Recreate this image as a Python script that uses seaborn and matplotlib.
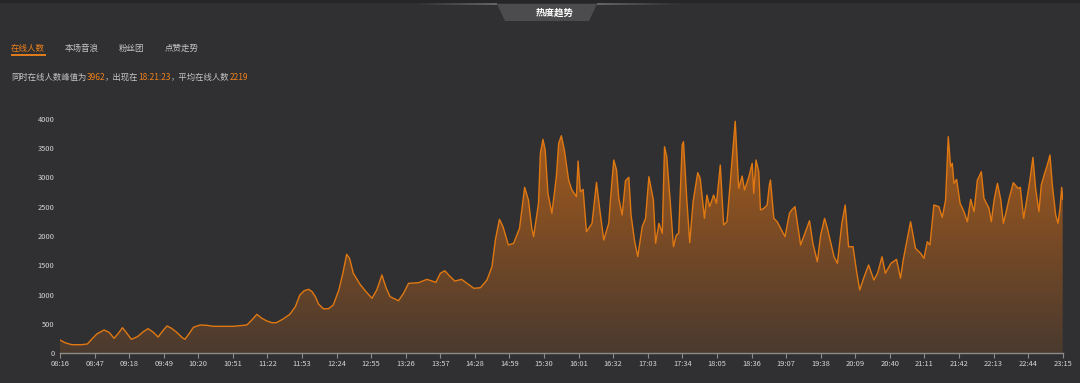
import numpy as np
import pandas as pd
import matplotlib
matplotlib.use("Agg")
import matplotlib.pyplot as plt
import seaborn as sns
from matplotlib.patches import Polygon, Rectangle
from matplotlib.colors import LinearSegmentedColormap

# ---------------- data ----------------
times = [
    "08:16:00", "08:20:30", "08:26:30", "08:35:30", "08:40:30", "08:44:24", "08:49:00", "08:55:30",
    "09:00:00", "09:04:30", "09:08:18", "09:12:00", "09:16:00", "09:20:00", "09:25:24", "09:30:48",
    "09:35:00", "09:39:42", "09:44:00", "09:48:42", "09:52:00", "09:56:00", "10:00:42", "10:05:12",
    "10:08:00", "10:12:00", "10:15:36", "10:21:36", "10:27:36", "10:33:30", "10:51:30", "11:03:30",
    "11:08:00", "11:12:30", "11:17:00", "11:21:30", "11:26:00", "11:30:00", "11:36:00", "11:42:00",
    "11:47:00", "11:51:00", "11:55:00", "11:59:00", "12:02:00", "12:05:00", "12:07:48", "12:12:00",
    "12:16:42", "12:21:00", "12:26:00", "12:29:36", "12:33:00", "12:35:36", "12:39:00", "12:45:00",
    "12:49:36", "12:55:42", "13:00:00", "13:04:36", "13:08:30", "13:12:00", "13:19:30", "13:24:00",
    "13:28:30", "13:37:30", "13:45:00", "13:53:00", "13:57:00", "14:01:00", "14:05:18", "14:10:00",
    "14:16:00", "14:27:00", "14:33:00", "14:38:48", "14:43:18", "14:46:18", "14:50:00", "14:53:12",
    "14:58:00", "15:02:42", "15:08:00", "15:12:36", "15:16:00", "15:19:00", "15:20:36", "15:25:00",
    "15:26:42", "15:29:00", "15:31:00", "15:33:30", "15:37:00", "15:41:00", "15:43:06", "15:45:30",
    "15:48:12", "15:52:00", "15:55:00", "15:59:00",
    "16:00:30", "16:02:30", "16:05:00", "16:08:00", "16:13:00", "16:17:00", "16:20:00", "16:23:30",
    "16:28:00", "16:29:30", "16:32:30", "16:35:00", "16:37:00", "16:40:00", "16:43:00", "16:46:00",
    "16:48:00", "16:51:00", "16:54:00", "16:58:00", "17:01:00", "17:04:00", "17:08:00", "17:10:00",
    "17:13:00", "17:16:00", "17:18:00", "17:20:00", "17:23:00", "17:26:00", "17:28:36", "17:30:42",
    "17:33:48", "17:35:00", "17:38:00", "17:40:36", "17:43:36", "17:47:48", "17:50:00", "17:53:48",
    "17:56:00", "17:58:30", "18:02:00", "18:04:36", "18:08:00", "18:11:00", "18:14:00", "18:16:30",
    "18:21:23", "18:24:30", "18:27:36", "18:29:42", "18:33:30", "18:36:36", "18:38:00", "18:40:00",
    "18:42:30", "18:44:00", "18:47:00", "18:50:00", "18:52:00", "18:53:00", "18:56:00", "18:59:00",
    "19:01:00", "19:06:00", "19:10:00", "19:12:00", "19:15:00", "19:20:00", "19:25:00", "19:28:00",
    "19:31:00", "19:35:00", "19:38:00", "19:41:30", "19:44:00", "19:50:00", "19:53:00", "19:57:00",
    "20:00:00", "20:03:00", "20:07:00", "20:10:00", "20:13:00", "20:17:00", "20:21:00", "20:25:42",
    "20:29:00", "20:33:00", "20:36:00", "20:41:00", "20:46:00", "20:49:36", "20:52:00", "20:58:36",
    "21:03:00", "21:07:36", "21:10:36", "21:13:36", "21:16:00", "21:19:30", "21:24:00", "21:27:00",
    "21:30:00", "21:32:24", "21:34:30", "21:36:00", "21:37:30", "21:39:54", "21:43:00", "21:46:30",
    "21:49:30", "21:52:30", "21:55:30", "21:58:30", "22:00:00", "22:02:00", "22:04:24", "22:08:54",
    "22:11:00", "22:13:30", "22:16:30", "22:19:30", "22:21:48", "22:24:00", "22:27:00", "22:30:42",
    "22:35:00", "22:37:00", "22:40:00", "22:43:00", "22:45:36", "22:48:18", "22:50:42", "22:53:42",
    "22:55:48", "22:58:48", "23:01:12", "23:03:36", "23:05:42", "23:08:42", "23:10:48", "23:12:36",
    "23:14:06", "23:15:00",
]
online = [
    222, 176, 142, 142, 154, 234, 325, 393,
    353, 251, 336, 433, 336, 234, 279, 365,
    416, 353, 273, 393, 462, 422, 353, 268,
    234, 336, 439, 479, 473, 456, 456, 479,
    564, 661, 593, 547, 518, 518, 581, 661,
    791, 991, 1065, 1089, 1048, 962, 837, 757,
    757, 820, 1077, 1362, 1687, 1618, 1362, 1174,
    1065, 935, 1077, 1333, 1106, 962, 894, 1020,
    1191, 1202, 1259, 1208, 1362, 1407, 1316, 1230,
    1259, 1106, 1116, 1248, 1475, 1931, 2285, 2159,
    1846, 1875, 2131, 2832, 2615, 2131, 1988, 2558,
    3413, 3652, 3470, 2729, 2387, 3013, 3584, 3714,
    3470, 2957, 2786, 2672,
    3281, 2757, 2797, 2073, 2217, 2917, 2444, 1931,
    2217, 2615, 3299, 3128, 2644, 2359, 2945, 3003,
    2359, 1931, 1646, 2159, 2302, 3013, 2615, 1875,
    2217, 2046, 3526, 3355, 2615, 1817, 2017, 2046,
    3555, 3612, 2615, 1885, 2586, 3082, 2986, 2302,
    2700, 2501, 2700, 2558, 3213, 2188, 2244, 2815,
    3962, 2815, 3025, 2786, 3003, 3242, 2729, 3299,
    3099, 2444, 2473, 2530, 2872, 2957, 2302, 2244,
    2171, 1988, 2387, 2444, 2501, 1846, 2102, 2261,
    1875, 1560, 2017, 2302, 2131, 1646, 1532, 2217,
    2530, 1817, 1817, 1419, 1077, 1304, 1504, 1248,
    1362, 1646, 1362, 1532, 1601, 1276, 1589, 2244,
    1789, 1704, 1618, 1902, 1846, 2530, 2501, 2319,
    2615, 3697, 3184, 3242, 2900, 2968, 2558, 2415,
    2244, 2627, 2415, 2957, 3013, 3099, 2644, 2473,
    2244, 2615, 2900, 2615, 2217, 2387, 2644, 2911,
    2815, 2832, 2302, 2644, 2957, 3344, 2815, 2415,
    2872, 3071, 3213, 3384, 2872, 2359, 2217, 2473,
    2832, 2627,
]
x_tick_labels = [
    "08:16", "08:47", "09:18", "09:49", "10:20", "10:51", "11:22", "11:53", "12:24", "12:55",
    "13:26", "13:57", "14:28", "14:59", "15:30", "16:01", "16:32", "17:03", "17:34", "18:05",
    "18:36", "19:07", "19:38", "20:09", "20:40", "21:11", "21:42", "22:13", "22:44", "23:15",
]
y_ticks = [0, 500, 1000, 1500, 2000, 2500, 3000, 3500, 4000]
tabs = ["在线人数", "本场音浪", "粉丝团", "点赞走势"]
title = "热度趋势"
summary_parts = [("同时在线人数峰值为", "gray"), ("3962", "orange"), ("，出现在", "gray"),
                 ("18:21:23", "orange"), ("，平均在线人数", "gray"), ("2219", "orange")]

assert len(times) == len(online)

# ---------------- style ----------------
BG = "#303032"
ORANGE = "#f0821a"
LINE = "#e07812"
GRAY_TXT = "#c4c4c4"
TICK_TXT = "#d4d4d4"

sns.set_theme(style="dark")
plt.rcParams["font.family"] = ["Noto Sans CJK SC", "DejaVu Sans"]

def to_min(s):
    p = [int(v) for v in s.split(":")]
    return p[0] * 60 + p[1] + (p[2] / 60 if len(p) > 2 else 0)

df = pd.DataFrame({"t": [to_min(s) for s in times], "v": online})
tick_pos = [to_min(s) for s in x_tick_labels]

W, H = 1080, 383
fig = plt.figure(figsize=(W / 100, H / 100), dpi=100, facecolor=BG)

# background / header decoration axes in pixel coords
bg = fig.add_axes([0, 0, 1, 1])
bg.set_xlim(0, W)
bg.set_ylim(H, 0)
bg.axis("off")
bg.set_facecolor(BG)
bg.add_patch(Rectangle((0, 0), W, 3, color="#262628", lw=0))
n = 40
for i in range(n):
    a = (i + 1) / n
    bg.add_patch(Rectangle((417 + i * 2, 3), 2, 2.2, color="#6a6a6c", alpha=a * 0.9, lw=0))
    bg.add_patch(Rectangle((597 + (n - 1 - i) * 2, 3), 2, 2.2, color="#6a6a6c", alpha=a * 0.9, lw=0))
bg.add_patch(Polygon([(497, 4), (597, 4), (589, 21), (505, 21)], closed=True,
                     color="#4c4c4e", lw=0))
bg.text(555, 13, title, color="white", fontsize=6.8, fontweight="bold",
        ha="center", va="center")

tab_x = [11, 65, 119, 165]
for i, (t, x) in enumerate(zip(tabs, tab_x)):
    bg.text(x, 48, t, color=ORANGE if i == 0 else GRAY_TXT, fontsize=6.1,
            ha="left", va="center")
bg.plot([11, 45.5], [54.5, 54.5], color=ORANGE, lw=1.3, solid_capstyle="butt")

fig.canvas.draw()
renderer = fig.canvas.get_renderer()
x = 11
for txt, c in summary_parts:
    tt = bg.text(x, 77, txt, color=ORANGE if c == "orange" else GRAY_TXT,
                 fontsize=6.0, ha="left", va="center")
    bb = tt.get_window_extent(renderer=renderer)
    x += bb.width

# ---------------- main chart ----------------
ax = fig.add_axes([60 / W, 30 / H, 1002.7 / W, 234 / H])
ax.set_facecolor("none")
sns.lineplot(data=df, x="t", y="v", ax=ax, color=LINE, lw=1.0, zorder=3)
poly = ax.fill_between(df["t"], df["v"], 0, color="none", lw=0)

cmap = LinearSegmentedColormap.from_list("g", ["#4a3a2f", "#7a4b25", "#a95d1c"])
grad = np.linspace(0, 1, 256).reshape(-1, 1)
im = ax.imshow(grad, extent=[df["t"].min(), df["t"].max(), 0, 4000], origin="lower",
               aspect="auto", cmap=cmap, zorder=2)
im.set_clip_path(poly.get_paths()[0], transform=ax.transData)

ax.set_xlim(tick_pos[0], tick_pos[-1])
ax.set_ylim(0, 4000)
ax.set_xticks(tick_pos)
ax.set_xticklabels(x_tick_labels)
ax.set_yticks(y_ticks)
ax.set_yticklabels([str(v) for v in y_ticks])
ax.set_xlabel("")
ax.set_ylabel("")
ax.grid(False)
for s in ["top", "right", "left"]:
    ax.spines[s].set_visible(False)
ax.spines["bottom"].set_color("#8c8c8c")
ax.spines["bottom"].set_linewidth(1.0)
ax.tick_params(axis="x", direction="out", length=3.5, width=0.8, color="#8c8c8c",
               labelcolor=TICK_TXT, labelsize=5.4, pad=1.5, bottom=True)
ax.tick_params(axis="y", length=0, labelcolor=TICK_TXT, labelsize=5.4, pad=4)

fig.savefig("out.png", dpi=100, facecolor=BG)
